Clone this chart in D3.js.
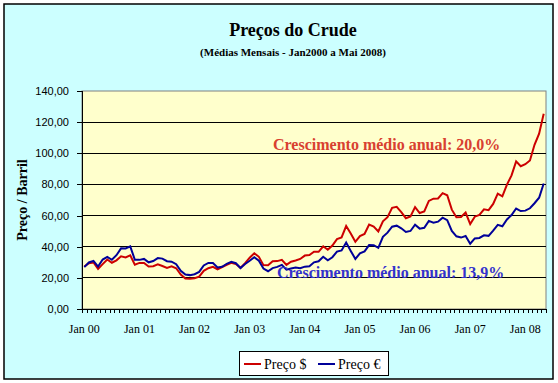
<!DOCTYPE html>
<html><head><meta charset="utf-8">
<script src="https://cdn.jsdelivr.net/npm/d3@7"></script>
<style>body{margin:0;background:#fff}svg{display:block}</style>
</head><body><svg id="c" width="558" height="383"></svg>
<script>
const years = ["00","01","02","03","04","05","06","07","08"];
const monthsPerYear = [12,12,12,12,12,12,12,12,5];
const priceUSD = [
27.26,29.37,29.84,25.72,28.79,31.82,29.70,31.26,33.88,33.11,34.42,28.44,
29.59,29.61,27.25,27.49,28.63,27.60,26.43,27.37,26.20,22.17,19.64,19.39,
19.72,20.72,24.53,26.18,27.04,25.52,26.97,28.39,29.66,28.84,26.35,29.46,
32.95,35.83,33.51,28.17,28.11,30.66,30.76,31.57,28.31,30.34,31.11,32.13,
34.31,34.69,36.74,36.75,40.28,38.03,40.78,44.90,45.94,53.28,48.47,43.15,
46.84,48.15,54.19,52.98,49.83,56.35,59.00,64.99,65.59,62.26,58.32,59.41,
65.49,61.63,62.69,69.44,70.84,70.95,74.41,73.04,63.80,58.89,59.08,61.96,
54.51,59.28,60.44,63.98,63.46,67.49,74.12,72.36,79.92,85.80,94.77,91.69,
92.97,95.39,105.45,112.58,125.40];
const priceEUR = [
26.89,29.87,30.94,27.22,31.78,33.48,31.64,34.56,38.96,38.84,40.25,31.66,
31.56,32.17,30.00,30.80,32.71,32.36,30.68,30.36,28.75,24.50,22.11,21.76,
22.33,23.80,27.98,29.55,29.49,26.69,27.15,29.04,30.24,29.40,26.31,28.93,
31.02,33.26,31.01,25.97,24.27,26.29,27.05,28.34,25.23,25.95,26.58,26.15,
27.20,27.43,29.96,30.66,33.55,31.33,33.25,36.88,37.60,42.66,37.31,32.18,
35.70,37.00,41.05,40.95,39.26,46.32,49.02,52.87,53.52,51.82,49.48,50.11,
54.11,51.62,52.15,56.59,55.47,56.09,58.66,57.01,50.13,46.70,45.87,46.89,
41.93,45.34,45.64,47.34,46.97,50.29,54.04,53.12,57.51,60.31,64.54,62.93,
63.17,64.68,67.91,71.48,80.61];
const yTicks = [0,20,40,60,80,100,120,140];
const seriesNames = ["Preço $","Preço €"];
const annotations = ["Crescimento médio anual: 20,0%","Crescimento médio anual: 13,9%"];

const SERIF = "Liberation Serif";
const SANS = "Liberation Sans";

const cats = [];
years.forEach((y,i)=>{for(let m=0;m<monthsPerYear[i];m++) cats.push({y,m});});

const svg = d3.select("#c");
svg.append("rect").attr("x",4).attr("y",4).attr("width",549).attr("height",375)
  .attr("fill","#CCFFFF").attr("stroke","#000").attr("stroke-width",1.5);

const L=82,R=546,T=91,B=309;
const x = d3.scaleBand().domain(d3.range(cats.length)).range([L,R]).paddingInner(0).paddingOuter(0);
const y = d3.scaleLinear().domain([0,140]).range([B,T]);

svg.append("rect").attr("x",L).attr("y",T).attr("width",R-L).attr("height",B-T)
  .attr("fill","#FFFFCC").attr("stroke","#808080").attr("stroke-width",1);

svg.append("g").selectAll("line").data(yTicks.filter(d=>d>0 && d<140)).join("line")
  .attr("x1",L).attr("x2",R).attr("y1",d=>y(d)).attr("y2",d=>y(d))
  .attr("stroke","#000").attr("stroke-width",1).attr("shape-rendering","crispEdges");

const ya = svg.append("g").attr("transform",`translate(${L},0)`)
  .call(d3.axisLeft(y).tickValues(yTicks).tickSize(5).tickPadding(8)
    .tickFormat(d=>d3.format(".2f")(d).replace(".",",")));
ya.attr("font-family",null).attr("font-size",null);
ya.select(".domain").attr("stroke","#000").attr("shape-rendering","crispEdges");
ya.selectAll("line").attr("stroke","#000").attr("shape-rendering","crispEdges");
ya.selectAll("text").style("font-family",SANS).style("font-size","11px").attr("fill","#000");

const bounds = d3.range(cats.length+1).map(i=>L+i*x.bandwidth());
svg.append("line").attr("x1",L).attr("x2",R).attr("y1",B).attr("y2",B)
  .attr("stroke","#000").attr("shape-rendering","crispEdges");
svg.append("g").selectAll("line").data(bounds).join("line")
  .attr("x1",d=>Math.round(d)+0.5).attr("x2",d=>Math.round(d)+0.5).attr("y1",B).attr("y2",B+4)
  .attr("stroke","#000").attr("stroke-width",1);
svg.append("g").selectAll("text").data(cats.map((c,i)=>({c,i})).filter(d=>d.c.m===0)).join("text")
  .style("font-family",SERIF).style("font-size","12px")
  .attr("x",d=>x(d.i)+x.bandwidth()/2).attr("y",333)
  .attr("text-anchor","middle").text(d=>"Jan "+d.c.y);

const line = d3.line().x((d,i)=>x(i)+x.bandwidth()/2).y(d=>y(d));
svg.append("path").datum(priceUSD).attr("d",line).attr("fill","none").attr("stroke","#CC0000").attr("stroke-width",2);
svg.append("path").datum(priceEUR).attr("d",line).attr("fill","none").attr("stroke","#000099").attr("stroke-width",2);

svg.append("text").style("font-family",SERIF).style("font-weight","bold").style("font-size","16px")
  .attr("x",273).attr("y",150).attr("fill","#D84030").text(annotations[0]);
svg.append("text").style("font-family",SERIF).style("font-weight","bold").style("font-size","16px")
  .attr("x",277).attr("y",278).attr("fill","#3333CC").text(annotations[1]);

svg.append("text").style("font-family",SERIF).style("font-weight","bold").style("font-size","18px")
  .attr("x",293).attr("y",36).attr("text-anchor","middle").text("Preços do Crude");
svg.append("text").style("font-family",SERIF).style("font-weight","bold").style("font-size","11px")
  .attr("x",293).attr("y",56).attr("text-anchor","middle").text("(Médias Mensais - Jan2000 a Mai 2008)");
svg.append("text").style("font-family",SERIF).style("font-weight","bold").style("font-size","14px")
  .attr("transform","translate(27,200) rotate(-90)").attr("text-anchor","middle").text("Preço / Barril");

const lg = svg.append("g");
lg.append("rect").attr("x",239.5).attr("y",351.5).attr("width",149).attr("height",24).attr("fill","#fff").attr("stroke","#000");
const lcol = ["#CC0000","#000099"];
const lx = [244,318];
seriesNames.forEach((n,i)=>{
  lg.append("line").attr("x1",lx[i]).attr("x2",lx[i]+17).attr("y1",364).attr("y2",364).attr("stroke",lcol[i]).attr("stroke-width",2);
  lg.append("text").style("font-family",SERIF).style("font-size","14px").attr("x",lx[i]+20).attr("y",369).text(n);
});
</script></body></html>
